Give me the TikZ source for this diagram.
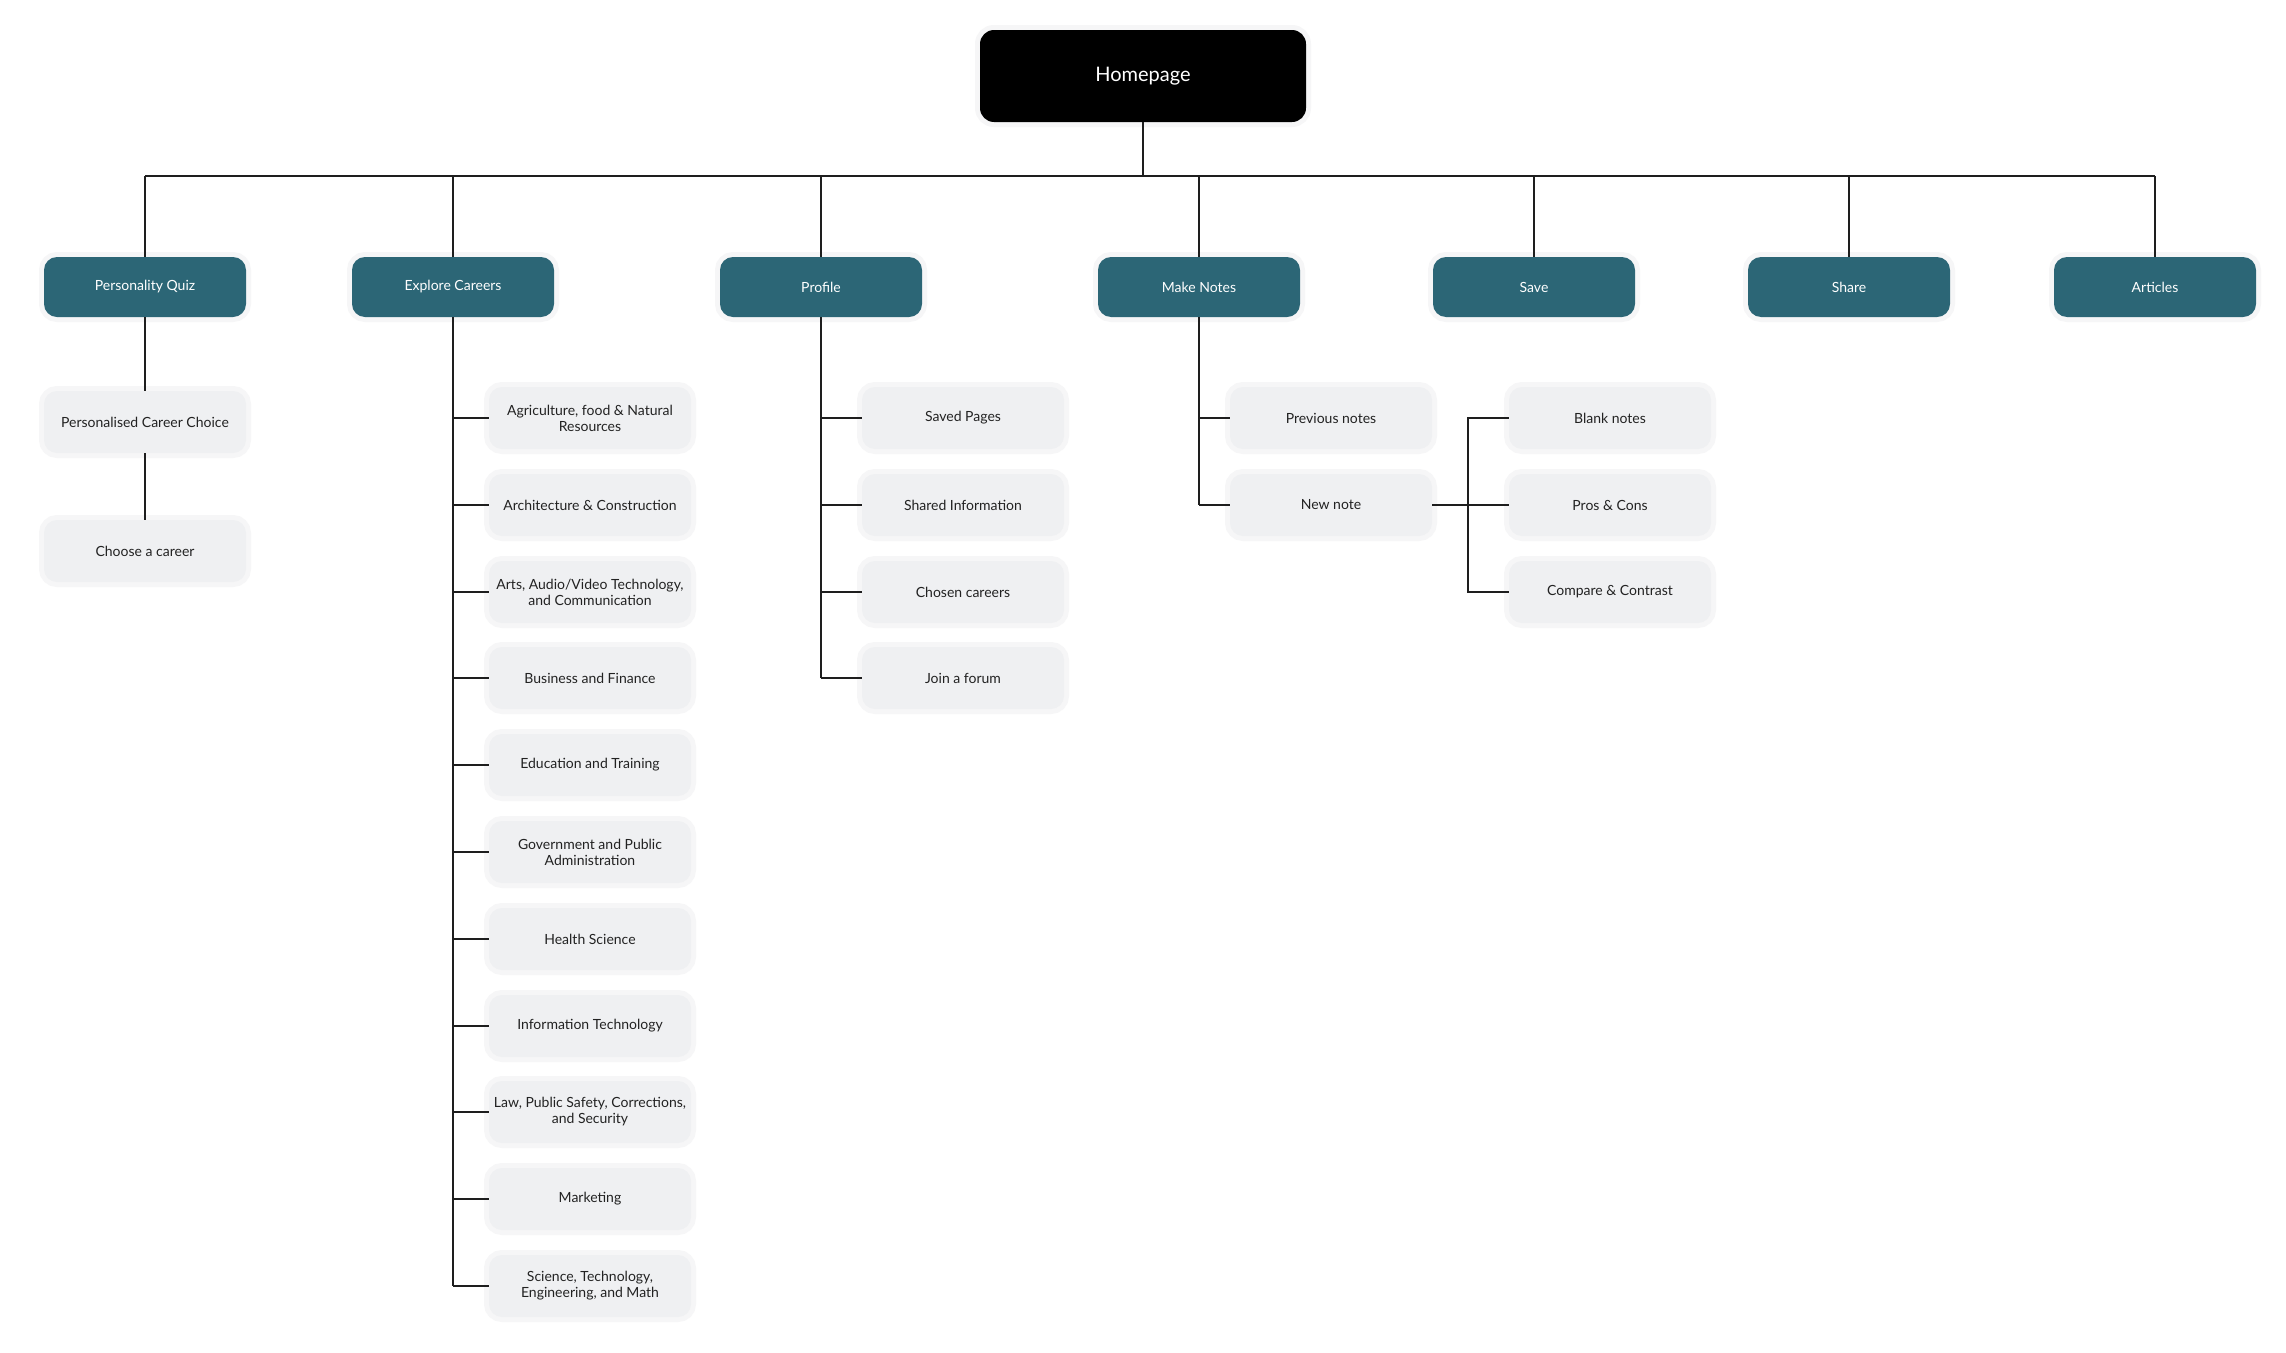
\documentclass[tikz,border=0pt]{standalone}
\usepackage{fontspec}
\setmainfont{Lato}
\definecolor{tealbox}{HTML}{2C6676}
\definecolor{greybox}{HTML}{EFF0F2}
\definecolor{greytext}{HTML}{222222}
\definecolor{linecol}{HTML}{1E1E1E}
\definecolor{glow}{HTML}{F6F6F7}
\tikzset{
  boxglow/.style={preaction={draw=glow, line width=10pt}},
  homebox/.style={boxglow, fill=black, text=white, rounded corners=14pt, minimum width=326pt, minimum height=92pt, font=\fontsize{20}{24}\selectfont},
  mainbox/.style={boxglow, fill=tealbox, text=white, rounded corners=13pt, minimum width=202pt, minimum height=60pt, font=\fontsize{14}{17}\selectfont},
  subbox/.style={boxglow, fill=greybox, text=greytext, rounded corners=13pt, minimum width=202pt, minimum height=62pt, align=center, font=\fontsize{14}{16}\selectfont},
  link/.style={draw=linecol, line width=2pt},
  drop/.style={draw=linecol, line width=1.6pt}
}
\begin{document}
\begin{tikzpicture}[x=1pt,y=-1pt]
  \useasboundingbox[fill=white] (0,0) rectangle (2286,1352);

  % top level
  \node[homebox] (home) at (1143,76) {Homepage};
  \node[mainbox] (quiz) at (145,287) {Personality Quiz};
  \node[mainbox] (careers) at (453,287) {Explore Careers};
  \node[mainbox] (profile) at (821,287) {Profile};
  \node[mainbox] (notes) at (1199,287) {Make Notes};
  \node[mainbox] (save) at (1534,287) {Save};
  \node[mainbox] (share) at (1849,287) {Share};
  \node[mainbox] (articles) at (2155,287) {Articles};

  % personality quiz
  \node[subbox] (pcc) at (145,422) {Personalised Career Choice};
  \node[subbox] (choose) at (145,551) {Choose a career};

  % explore careers
  \node[subbox] (agri) at (590,418) {Agriculture, food \& Natural\\Resources};
  \node[subbox] (archi) at (590,505) {Architecture \& Construction};
  \node[subbox] (arts) at (590,592) {Arts, Audio/Video Technology,\\and Communication};
  \node[subbox] (business) at (590,678) {Business and Finance};
  \node[subbox] (education) at (590,765) {Education and Training};
  \node[subbox] (gov) at (590,852) {Government and Public\\Administration};
  \node[subbox] (health) at (590,939) {Health Science};
  \node[subbox] (infotech) at (590,1026) {Information Technology};
  \node[subbox] (law) at (590,1112) {Law, Public Safety, Corrections,\\and Security};
  \node[subbox] (marketing) at (590,1199) {Marketing};
  \node[subbox] (stem) at (590,1286) {Science, Technology,\\Engineering, and Math};

  % profile
  \node[subbox] (saved) at (963,418) {Saved Pages};
  \node[subbox] (shared) at (963,505) {Shared Information};
  \node[subbox] (chosen) at (963,592) {Chosen careers};
  \node[subbox] (forum) at (963,678) {Join a forum};

  % make notes
  \node[subbox] (prevnotes) at (1331,418) {Previous notes};
  \node[subbox] (newnote) at (1331,505) {New note};
  \node[subbox] (blank) at (1610,418) {Blank notes};
  \node[subbox] (pros) at (1610,505) {Pros \& Cons};
  \node[subbox] (compare) at (1610,592) {Compare \& Contrast};

  % bus
  \coordinate (busL) at (145,176);
  \coordinate (busR) at (2155,176);
  \draw[link] (busL) -- (busR);
  \draw[drop] (home.south) -- (home.south |- busL);
  \foreach \n in {quiz,careers,profile,notes,save,share,articles}
    \draw[drop] (\n.north) -- (\n.north |- busL);

  % branches
  \draw[drop] (quiz.south) -- (pcc.north);
  \draw[drop] (pcc.south) -- (choose.north);

  \draw[link] (careers.south) -- (careers.south |- stem.west);
  \foreach \n in {agri,archi,arts,business,education,gov,health,infotech,law,marketing,stem}
    \draw[link] (\n.west) -- (\n.west -| careers.south);

  \draw[link] (profile.south) -- (profile.south |- forum.west);
  \foreach \n in {saved,shared,chosen,forum}
    \draw[link] (\n.west) -- (\n.west -| profile.south);

  \draw[link] (notes.south) -- (notes.south |- newnote.west);
  \foreach \n in {prevnotes,newnote}
    \draw[link] (\n.west) -- (\n.west -| notes.south);

  \coordinate (join) at (1468,505);
  \draw[link] (newnote.east) -- (pros.west);
  \draw[link] (blank.west) -| (join) |- (compare.west);
\end{tikzpicture}
\end{document}
